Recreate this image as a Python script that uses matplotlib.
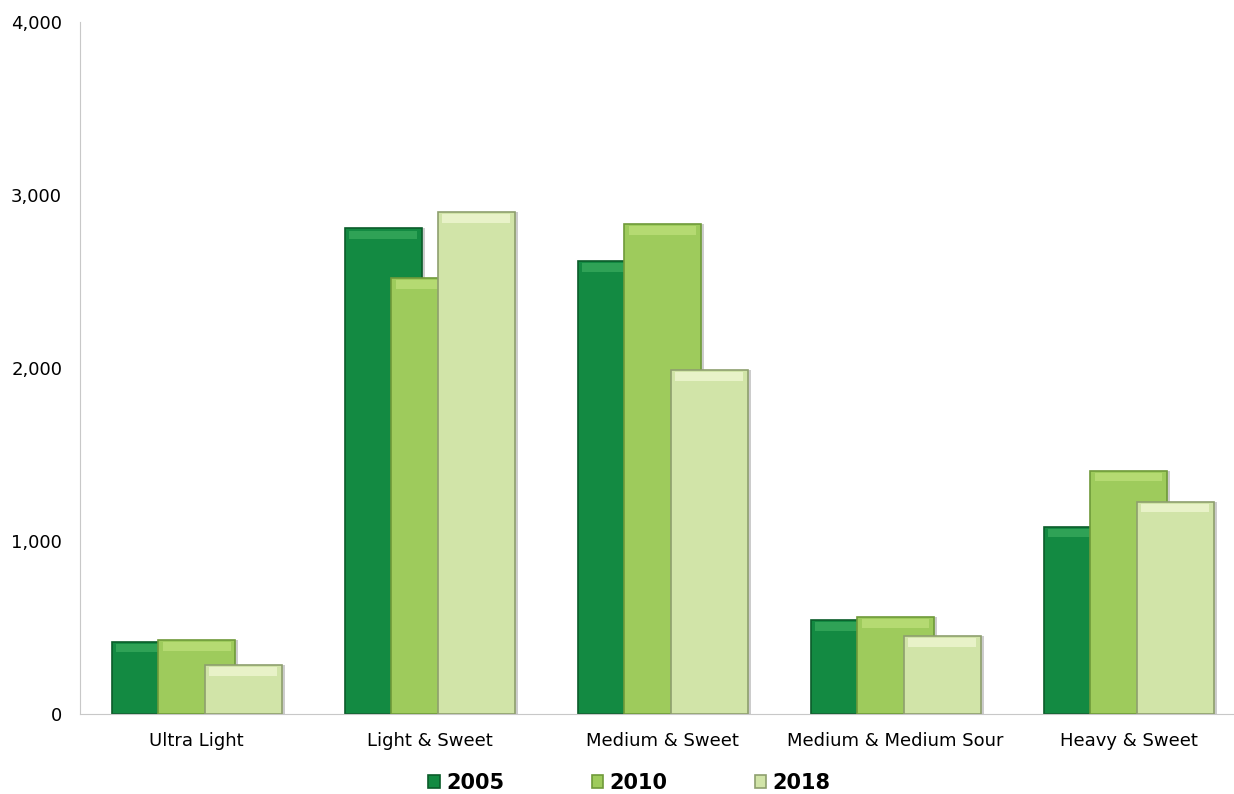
import matplotlib.pyplot as plt
import numpy as np

categories = ["Ultra Light", "Light & Sweet", "Medium & Sweet", "Medium & Medium Sour", "Heavy & Sweet"]
years = ["2005", "2010", "2018"]
v2005 = [418, 2807, 2618, 543, 1083]
v2010 = [428, 2520, 2832, 561, 1406]
v2018 = [283, 2903, 1988, 451, 1227]

colors = ["#138a42", "#9ecb5c", "#d1e4a8"]
edges = ["#0b5c2a", "#6f9a3a", "#8e9f6e"]
highlights = ["#2fa256", "#b5da72", "#e8f2c8"]

plt.rcParams['font.family'] = ['DejaVu Sans']

fig = plt.figure(figsize=(12.34, 7.94), dpi=100)
ax = fig.add_axes([0.065, 0.101, 0.944, 0.871])

x = np.arange(len(categories))
width = 0.33
offset = 0.2
for i, (vals, yr) in enumerate(zip([v2005, v2010, v2018], years)):
    pos = x + (i - 1) * offset
    vals = np.array(vals)
    # soft shadow to the right
    ax.bar(pos + 0.014, vals, width, color="#000000", alpha=0.2, linewidth=0, zorder=i * 3 + 1)
    ax.bar(pos, vals, width, color=colors[i], edgecolor=edges[i], linewidth=1.2,
           label=yr, zorder=i * 3 + 2)
    # bevel highlight along top
    ax.bar(pos, np.full(len(vals), 50.0), width * 0.88, bottom=vals - 62,
           color=highlights[i], linewidth=0, zorder=i * 3 + 3)

ax.set_xlim(-0.5, 4.5)
ax.set_ylim(0, 4000)
ax.set_yticks([0, 1000, 2000, 3000, 4000])
ax.set_yticklabels(["0", "1,000", "2,000", "3,000", "4,000"], fontsize=13)
ax.set_xticks(x)
ax.set_xticklabels(categories, fontsize=13)
ax.tick_params(axis='x', length=0, pad=13)
ax.tick_params(axis='y', length=0, pad=13)
for s in ["top", "right"]:
    ax.spines[s].set_visible(False)
ax.spines["left"].set_color("#c8c8c8")
ax.spines["bottom"].set_color("#c8c8c8")

fig.legend(loc="lower center", ncol=3, frameon=False, handlelength=0.55,
           handleheight=0.55, columnspacing=4.2, handletextpad=0.3,
           bbox_to_anchor=(0.51, -0.022), prop={'weight': 'bold', 'size': 15})

fig.savefig("out.png", dpi=100)
